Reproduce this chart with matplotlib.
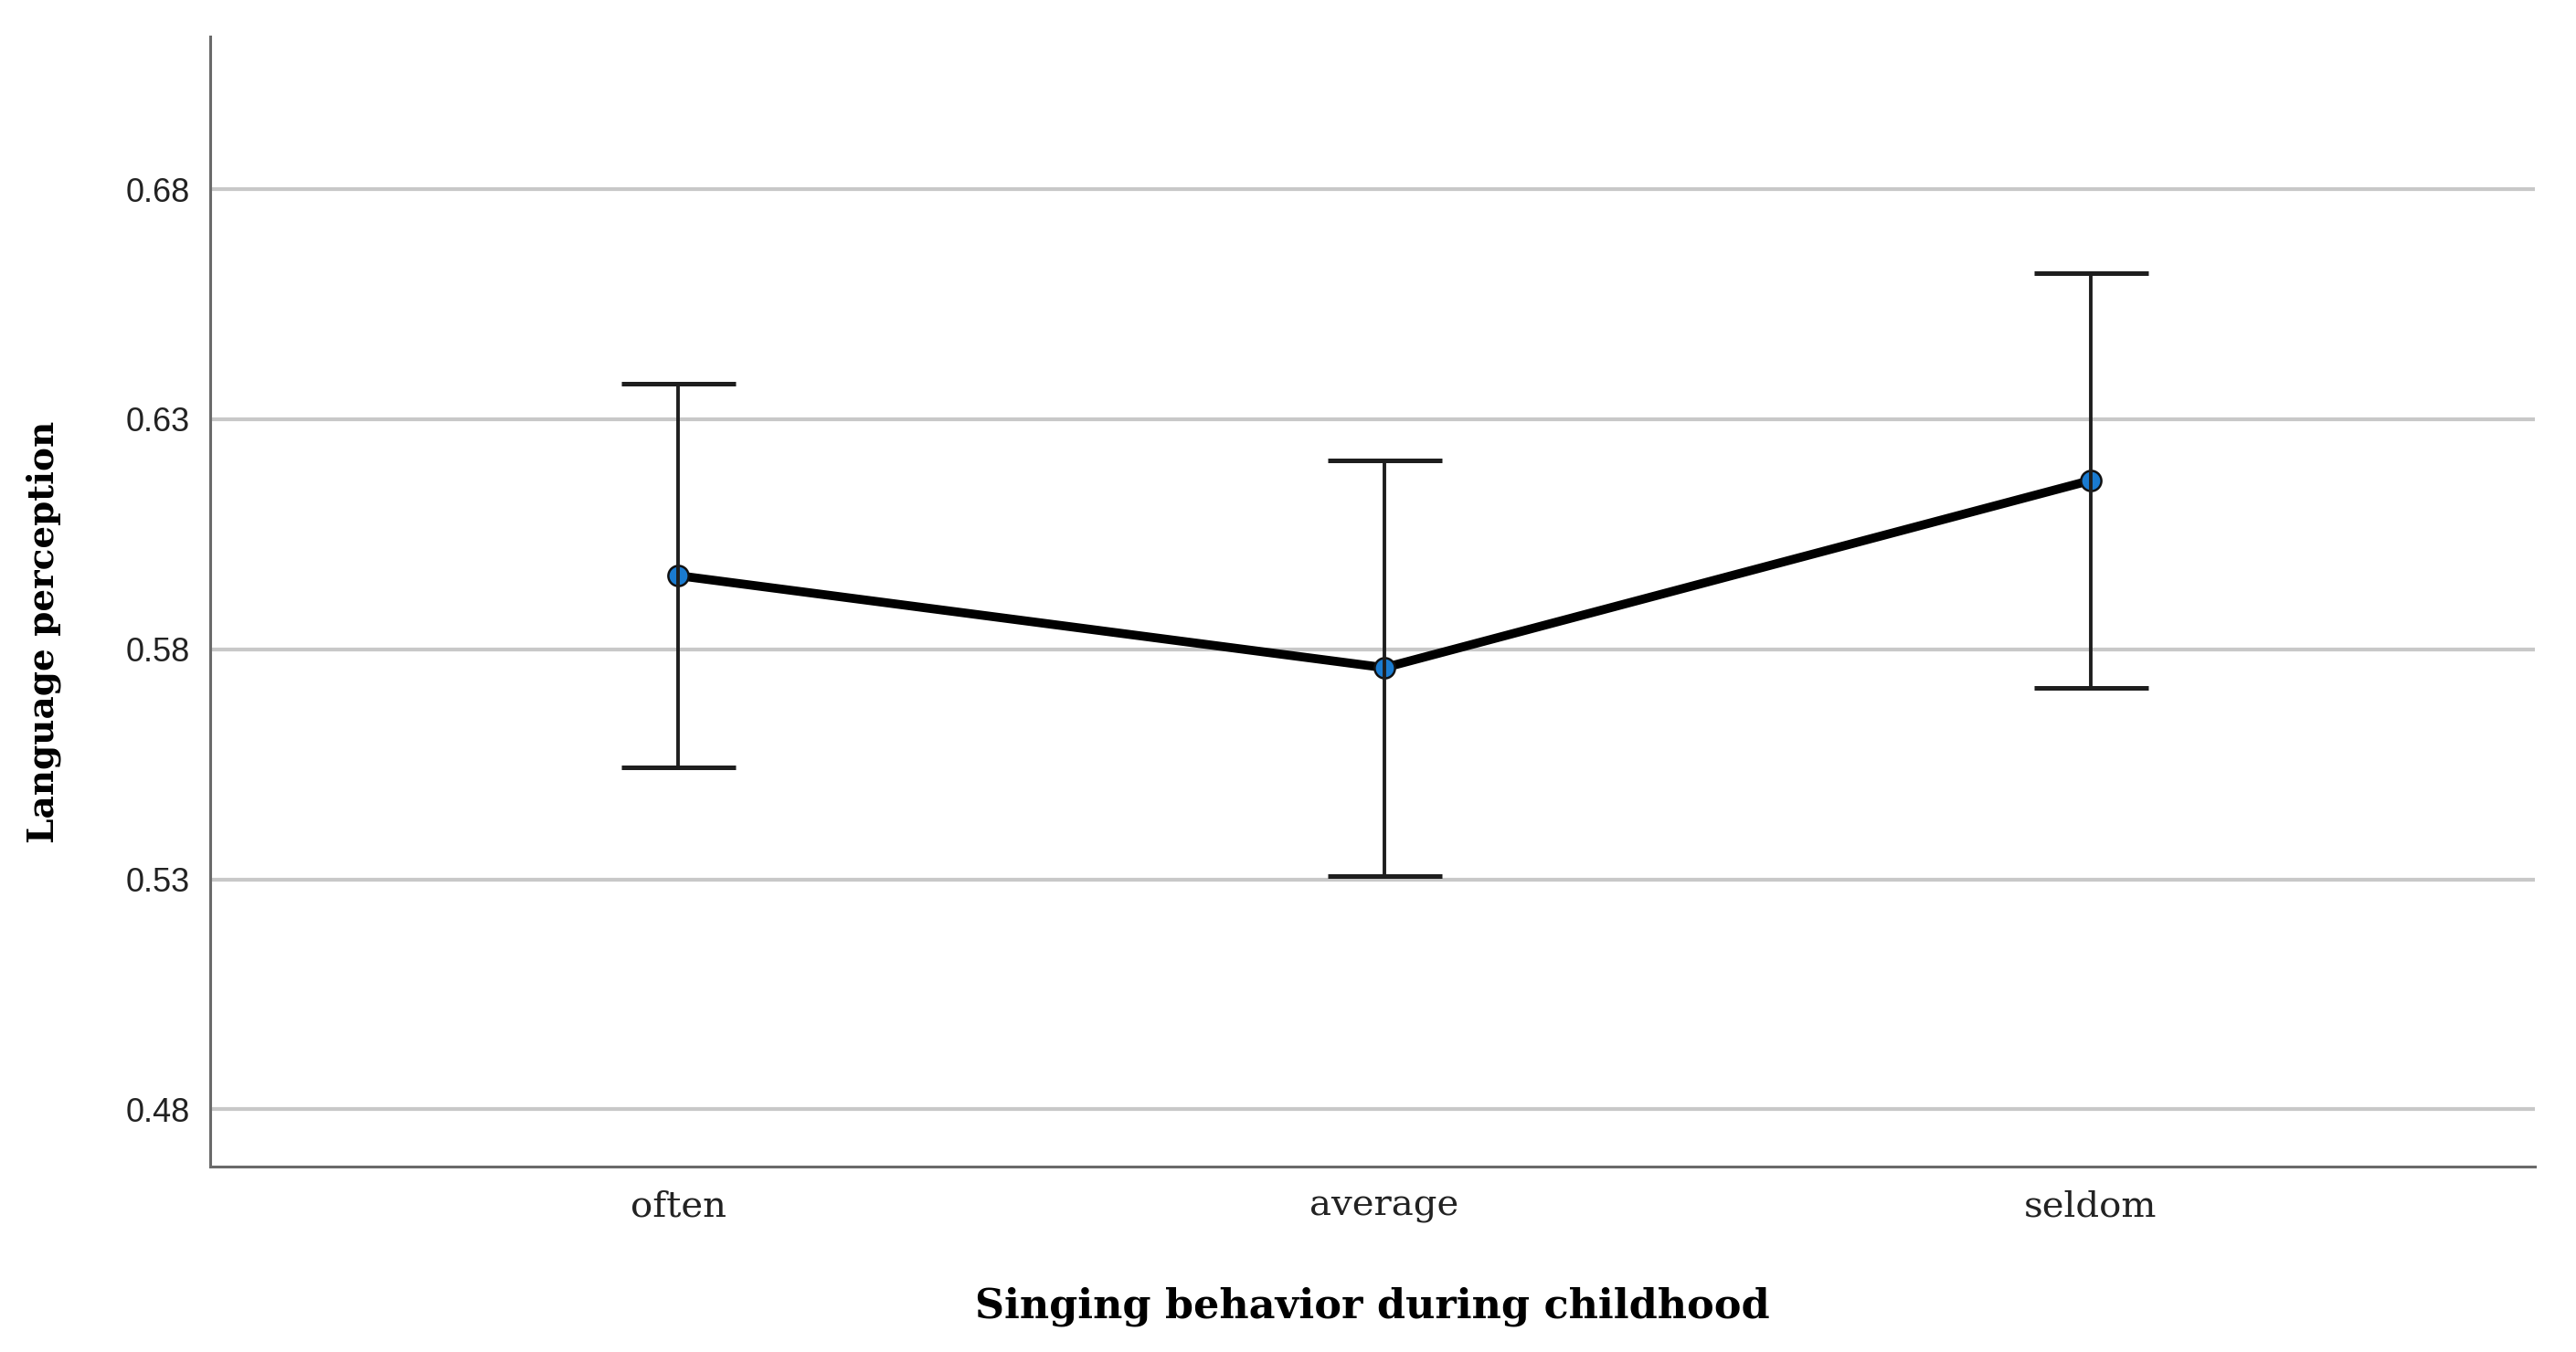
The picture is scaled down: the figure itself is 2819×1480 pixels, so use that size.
import matplotlib.pyplot as plt

# Data
groups = ['often', 'average', 'seldom']
means = [0.596, 0.576, 0.6167]
ci_low = [0.5544, 0.5307, 0.5716]
ci_high = [0.6377, 0.6211, 0.6617]
yticks = [0.48, 0.53, 0.58, 0.63, 0.68]

fig = plt.figure(figsize=(28.19, 14.8), dpi=100)
ax = fig.add_axes([0.0816, 0.137, 0.9024, 0.836])

x = list(range(len(groups)))
err_lo = [m - lo for m, lo in zip(means, ci_low)]
err_hi = [hi - m for m, hi in zip(means, ci_high)]

# horizontal reference lines
for t in yticks:
    ax.axhline(t, color='#c8c8c8', lw=3, zorder=0)

ax.plot(x, means, color='black', lw=7, zorder=2, solid_capstyle='round')
ax.plot(x, means, 'o', ms=16, mfc='#1a7bd0', mec='#111111', mew=1.8, zorder=3)

eb = ax.errorbar(x, means, yerr=[err_lo, err_hi], fmt='none', ecolor='#1e1e1e',
                 elinewidth=2.8, capsize=45, capthick=3.6, zorder=4)
for cl in eb[1]:
    cl.set_color('#505050')

ax.set_xlim(-0.663, 2.629)
ax.set_ylim(0.4675, 0.7132)
ax.set_yticks(yticks)
ax.set_yticklabels([f'{t:.2f}' for t in yticks], fontfamily='Liberation Sans', fontsize=26)
ax.set_xticks(x)
ax.set_xticklabels(groups, fontfamily='DejaVu Serif', fontsize=29)
ax.tick_params(axis='both', length=0, colors='#222222')
ax.tick_params(axis='y', pad=16)
ax.tick_params(axis='x', pad=18)

for s in ['top', 'right']:
    ax.spines[s].set_visible(False)
for s in ['left', 'bottom']:
    ax.spines[s].set_color('#6a6a6a')
    ax.spines[s].set_linewidth(2.2)

ax.set_xlabel('Singing behavior during childhood', fontfamily='DejaVu Serif',
              fontweight='bold', fontsize=32, labelpad=50)
ax.set_ylabel('Language perception', fontfamily='DejaVu Serif',
              fontweight='bold', fontsize=28)
ax.yaxis.set_label_coords(-0.064, 0.473)

fig.savefig('out.png', dpi=100, facecolor='white')
